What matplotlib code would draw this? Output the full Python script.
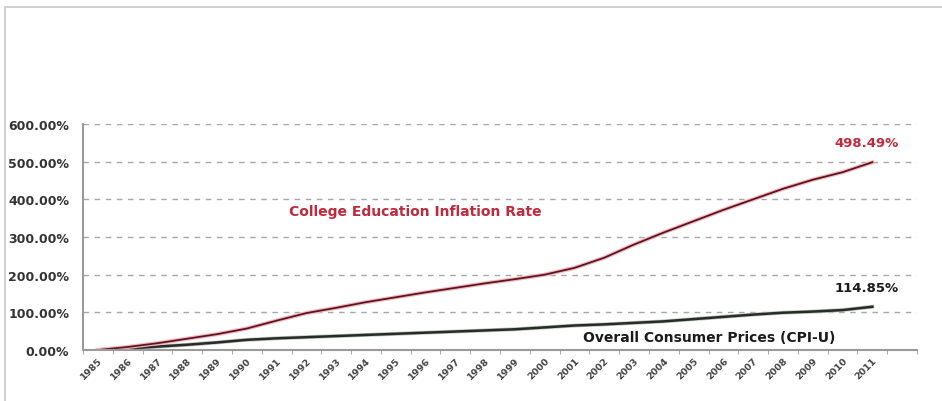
#! /usr/bin/env python3
"""
College tuition inflation vs. overall consumer prices, 1985-2011.
Cumulative change since 1985, in percent.
"""

import numpy as np
import matplotlib
matplotlib.use('Agg')
import matplotlib.pyplot as plt
import matplotlib.patheffects as pe
from matplotlib.patches import Rectangle

years = [str(y) for y in range(1985, 2012)]

college = [0, 8, 18, 30, 42, 57, 78, 98, 112, 127, 140, 153, 165, 177,
           188, 200, 218, 245, 280, 312, 342, 372, 400, 428, 452, 472,
           498.49]

cpi = [0, 4, 9, 14, 20, 27, 31, 34, 37, 40, 43, 46, 49, 52, 55, 60,
       65, 68, 72, 76, 82, 88, 94, 99, 102, 106, 114.85]

yticks = [0, 100, 200, 300, 400, 500, 600]
ytick_labels = ['{:.2f}%'.format(v) for v in yticks]

college_label = 'College Education Inflation Rate'
cpi_label = 'Overall Consumer Prices (CPI-U)'
college_end = '498.49%'
cpi_end = '114.85%'


def main():
    fig = plt.figure(figsize=(9.42, 4.02), dpi=100)
    plt.rcParams['font.family'] = ['DejaVu Sans']

    # light frame round the whole picture (cut off at right and bottom)
    fig.patches.append(Rectangle((5 / 942, -0.05), 1.0, 1 - 8 / 402 + 0.05,
                                 transform=fig.transFigure, fill=False,
                                 edgecolor='#c8c8c8', lw=1.2))

    ax = fig.add_axes([83 / 942, 1 - 351 / 402, (917 - 83) / 942,
                       (351 - 125) / 402])
    x = np.arange(len(years))

    ax.plot(x, cpi, color='#2a2a2a', lw=1.8,
            path_effects=[pe.Stroke(linewidth=2.8, foreground='#b8c8b8'),
                          pe.Normal()])
    ax.plot(x, college, color='#5e1420', lw=1.3,
            path_effects=[pe.Stroke(linewidth=3.0, foreground='#f3b9c0'),
                          pe.Normal()])

    ax.set_xlim(-0.5, len(years) + 0.5)
    ax.set_ylim(0, 600)

    ax.set_yticks(yticks)
    ax.set_yticklabels(ytick_labels, fontsize=9, fontweight='bold',
                       color='#333333')
    ax.set_xticks(x)
    ax.set_xticklabels(years, rotation=45, ha='right', rotation_mode='anchor',
                       fontsize=6.8, fontweight='bold', color='#444444')
    ax.set_xticks(np.arange(-0.5, len(years) + 1.0, 1.0), minor=True)
    ax.tick_params(axis='x', which='major', length=0, pad=4)
    ax.tick_params(axis='x', which='minor', length=3, color='#999999')
    ax.tick_params(axis='y', length=0, pad=10)

    for v in yticks[1:]:
        ax.axhline(v, color='#a8a8a8', lw=1.0, ls=(0, (4, 4)), zorder=0)

    for side in ['top', 'right']:
        ax.spines[side].set_visible(False)
    for side in ['left', 'bottom']:
        ax.spines[side].set_color('#9a9a9a')
        ax.spines[side].set_linewidth(1.5)

    ax.text(6.4, 368, college_label, color='#c0283c', fontsize=10,
            fontweight='bold', va='center')
    ax.text(16.3, 35, cpi_label, color='#1a1a1a', fontsize=10,
            fontweight='bold', va='center')
    ax.text(25.8, 550, college_end, color='#c0283c', fontsize=9.5,
            fontweight='bold', ha='center', va='center')
    ax.text(25.8, 167, cpi_end, color='#1a1a1a', fontsize=9.5,
            fontweight='bold', ha='center', va='center')

    fig.savefig('out.png', dpi=100)
    return None


if __name__ == '__main__':
    main()
